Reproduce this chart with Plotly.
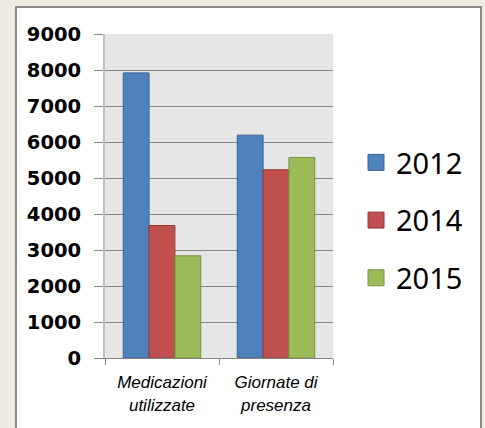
import plotly.graph_objects as go

categories = ["Medicazioni<br>utilizzate", "Giornate di<br>presenza"]
years = ["2012", "2014", "2015"]
values_2012 = [7920, 6190]
values_2014 = [3680, 5230]
values_2015 = [2840, 5570]
y_ticks = [0, 1000, 2000, 3000, 4000, 5000, 6000, 7000, 8000, 9000]

series = [values_2012, values_2014, values_2015]
fills = ["#4F81BD", "#C0504D", "#9BBB59"]
edges = ["#3A6393", "#943B39", "#76913F"]

fig = go.Figure()
for yr, vals, fc, ec in zip(years, series, fills, edges):
    fig.add_trace(go.Bar(
        x=categories, y=vals, name=yr, showlegend=False,
        marker=dict(color=fc, line=dict(color=ec, width=1)),
    ))
# legend entries
for yr, fc, ec in zip(years, fills, edges):
    fig.add_trace(go.Scatter(
        x=[None], y=[None], mode="markers", name=yr, legendgroup=yr,
        marker=dict(symbol="square", size=16, color=fc, line=dict(color=ec, width=1)),
        hoverinfo="skip",
    ))

fig.update_layout(
    width=485, height=428,
    margin=dict(l=105, r=152, t=34, b=70),
    paper_bgcolor="#EEECE1",
    plot_bgcolor="#E6E6E6",
    barmode="group",
    bargap=0.32, bargroupgap=0,
    showlegend=True,
    legend=dict(
        x=1.101, xanchor="left", y=0.682, yanchor="top",
        font=dict(family="Noto Sans", size=29, color="#000000"),
        bgcolor="rgba(0,0,0,0)", traceorder="grouped", tracegroupgap=17,
        itemsizing="trace",
    ),
    shapes=[
        dict(
            type="rect", xref="paper", yref="paper",
            x0=(16 - 105) / 228, x1=(481 - 105) / 228,
            y0=-0.3, y1=(358 - 7) / 324,
            fillcolor="#FFFFFF", line=dict(color="#8A8A8A", width=2),
            layer="below",
        ),
        dict(
            type="rect", xref="paper", yref="paper",
            x0=0, x1=1, y0=0, y1=1,
            fillcolor="#E6E6E6", line=dict(width=0),
            layer="below",
        ),
    ],
)

fig.update_yaxes(
    range=[0, 9000], tickvals=y_ticks,
    showgrid=True, gridcolor="#868686", gridwidth=1,
    ticks="outside", ticklen=9, tickcolor="#868686",
    showline=True, linecolor="#BFBFBF", linewidth=2,
    tickfont=dict(family="DejaVu Sans", size=19.5, color="#000000", weight="bold"),
    ticklabelstandoff=9,
    zeroline=False,
)
fig.update_xaxes(
    showline=True, linecolor="#868686", linewidth=1,
    ticks="outside", ticklen=6, tickcolor="#868686",
    tickfont=dict(family="Liberation Sans", size=17, color="#000000", style="italic"),
    tickson="boundaries",
    ticklabelstandoff=9,
    showgrid=False,
)

fig.write_html(
    "out.html",
    config={"displayModeBar": False},
    post_script="document.body.style.margin='0';document.body.style.background='#EEECE1';",
)
